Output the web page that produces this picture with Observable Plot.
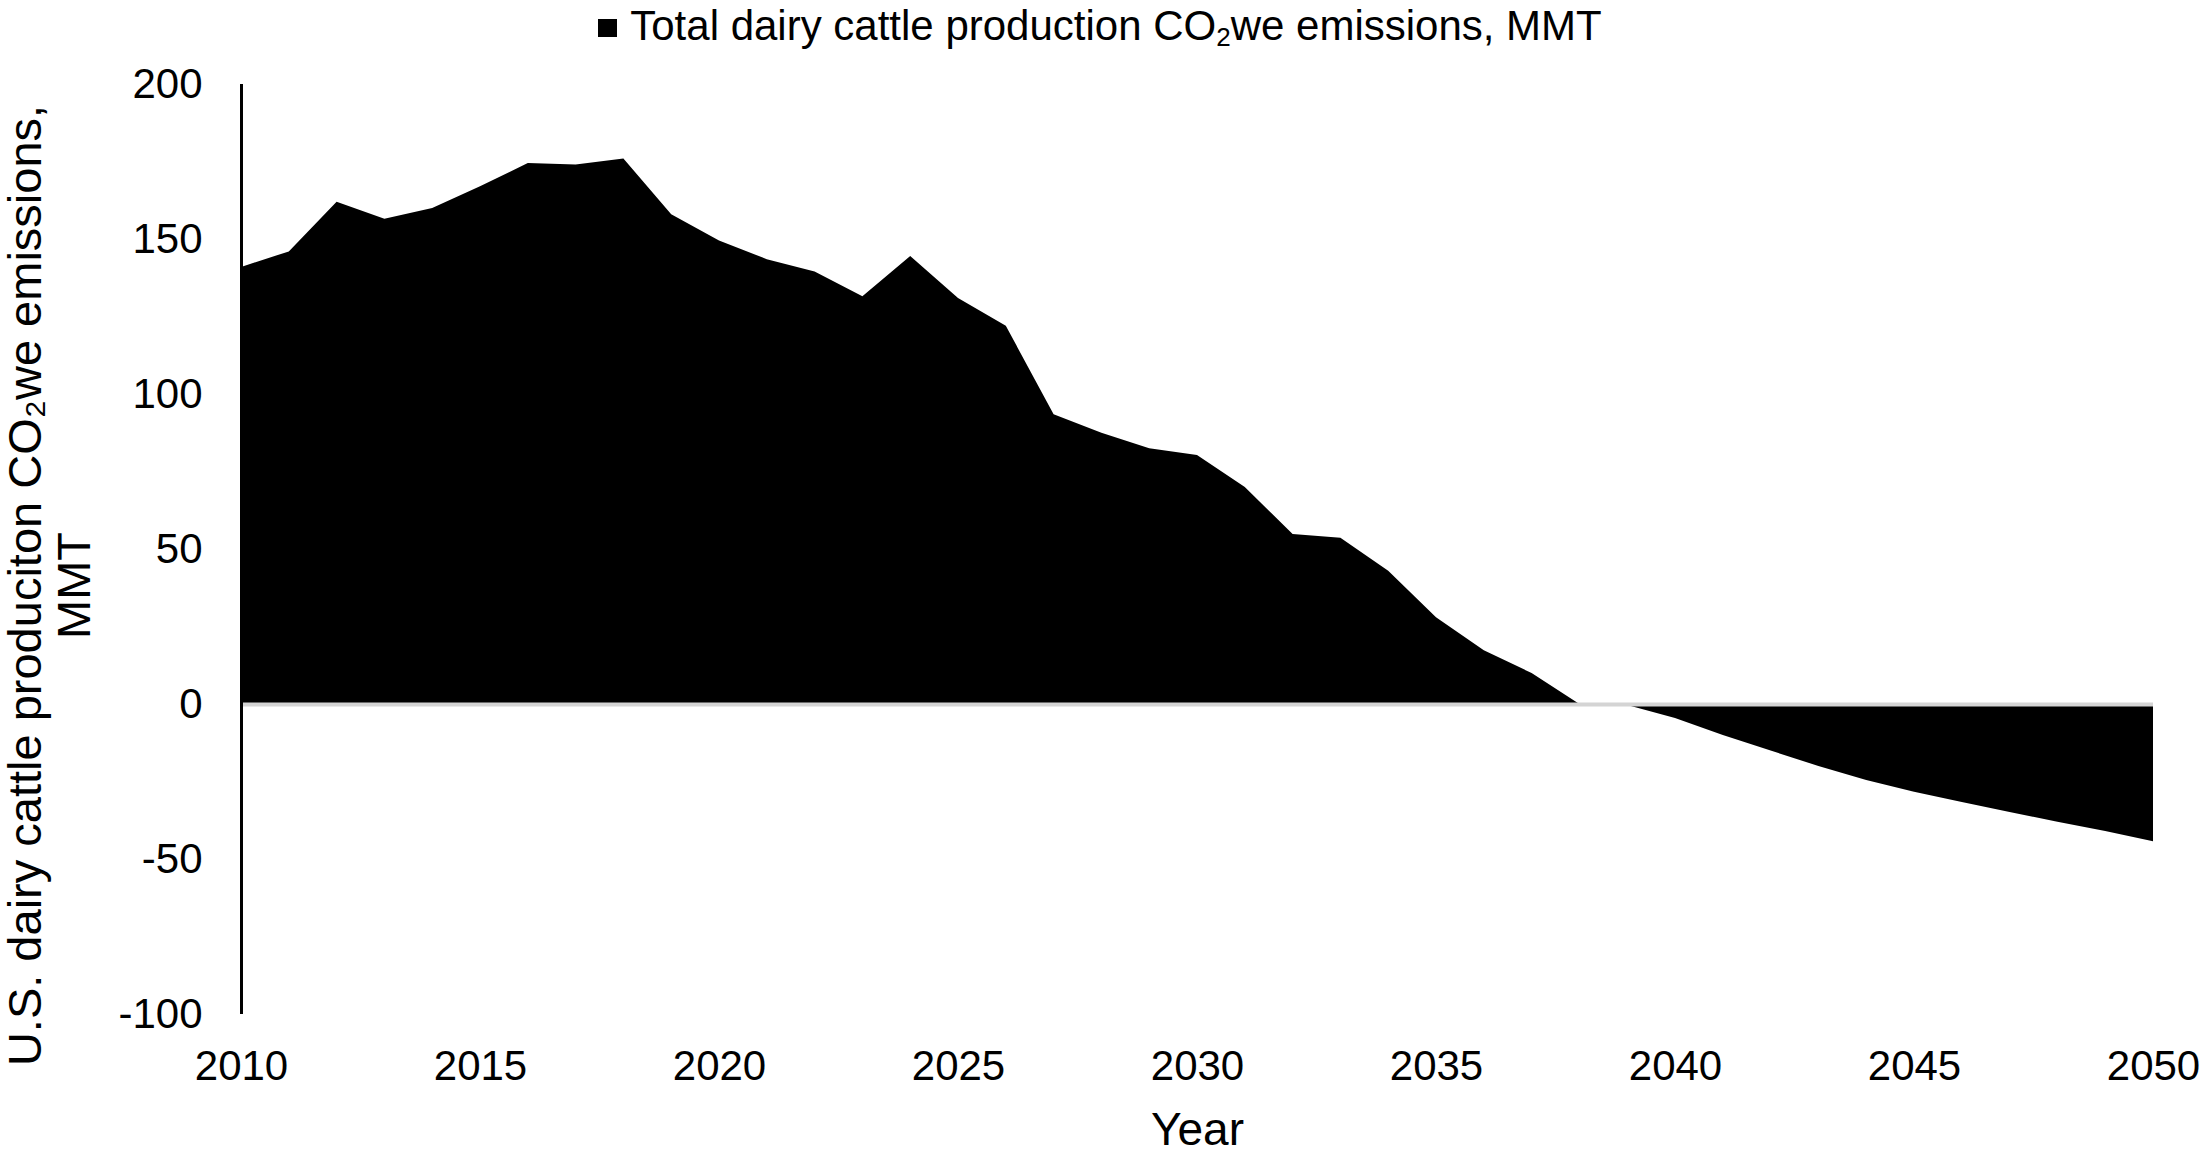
<!DOCTYPE html>
<html>
<head>
<meta charset="utf-8">
<script src="https://cdn.jsdelivr.net/npm/d3@7"></script>
<script src="https://cdn.jsdelivr.net/npm/@observablehq/plot@0.6"></script>
<style>
  html, body { margin: 0; padding: 0; background: #fff; overflow: hidden; }
  body { width: 2200px; height: 1151px; font-family: "Liberation Sans", Arial, sans-serif; }
  #legend { position: relative; width: 2200px; height: 48px; }
  #legend .item { position: absolute; left: 0; right: 0; top: 3px; height: 46px; line-height: 46px; text-align: center; font-size: 42px; color: #000; white-space: nowrap; }
  #legend .sw { display: inline-block; width: 19px; height: 18px; background: #000; margin-right: 13px; vertical-align: 3px; }
  #legend sub { font-size: 0.62em; vertical-align: -0.22em; line-height: 0; }
  #chart svg { display: block; }
</style>
</head>
<body>
<div id="legend"><div class="item"><span class="sw"></span>Total dairy cattle production CO<sub>2</sub>we emissions, MMT</div></div>
<div id="chart"></div>
<script>
const years = [2010, 2011, 2012, 2013, 2014, 2015, 2016, 2017, 2018, 2019,
               2020, 2021, 2022, 2023, 2024, 2025, 2026, 2027, 2028, 2029,
               2030, 2031, 2032, 2033, 2034, 2035, 2036, 2037, 2038, 2039,
               2040, 2041, 2042, 2043, 2044, 2045, 2046, 2047, 2048, 2049, 2050];
const emissions = [141, 146, 162, 156.5, 160, 167, 174.5, 174, 176, 158,
                   149.5, 143.5, 139.5, 131.5, 144.5, 131, 122, 93.5, 87.5, 82.5,
                   80.3, 70, 54.8, 53.6, 43, 28, 17.3, 10, 0, -0.3,
                   -4.5, -10, -15, -20, -24.5, -28.3, -31.6, -34.8, -38, -41, -44.3];
const xTicks = [2010, 2015, 2020, 2025, 2030, 2035, 2040, 2045, 2050];
const yTicks = [-100, -50, 0, 50, 100, 150, 200];
const yTitle = "U.S. dairy cattle produciton CO\u2082we emissions,\nMMT";
const xTitle = "Year";

const data = years.map((year, i) => ({year, value: emissions[i]}));

const chart = Plot.plot({
  width: 2200,
  height: 1103,
  marginTop: 36,
  marginBottom: 137,
  marginLeft: 241,
  marginRight: 47,
  style: {fontFamily: '"Liberation Sans", Arial, sans-serif', color: "#000", background: "#fff", overflow: "visible"},
  x: {domain: [2010, 2050], ticks: xTicks, tickFormat: d => String(d)},
  y: {domain: [-100, 200], ticks: yTicks, tickFormat: d => String(d)},
  marks: [
    Plot.areaY(data, {x: "year", y: "value", fill: "#000"}),
    Plot.ruleY([0], {stroke: "#d4d4d4", strokeWidth: 4}),
    Plot.ruleX([2010], {y1: -100, y2: 200, stroke: "#000", strokeWidth: 3}),
    Plot.axisX({ticks: xTicks, tickSize: 0, tickPadding: 36, fontSize: 42, label: null, tickFormat: d => String(d)}),
    Plot.axisY({ticks: yTicks, tickSize: 0, tickPadding: 39, fontSize: 42, label: null, tickFormat: d => String(d)}),
    Plot.text([yTitle], {frameAnchor: "left", textAnchor: "middle", lineAnchor: "middle", rotate: -90, dx: -192, dy: 36, fontSize: 47, lineHeight: 1.06, fill: "#000"}),
    Plot.text([xTitle], {frameAnchor: "bottom", dy: 130, fontSize: 46, fill: "#000"})
  ]
});
document.getElementById("chart").appendChild(chart);
</script>
</body>
</html>
